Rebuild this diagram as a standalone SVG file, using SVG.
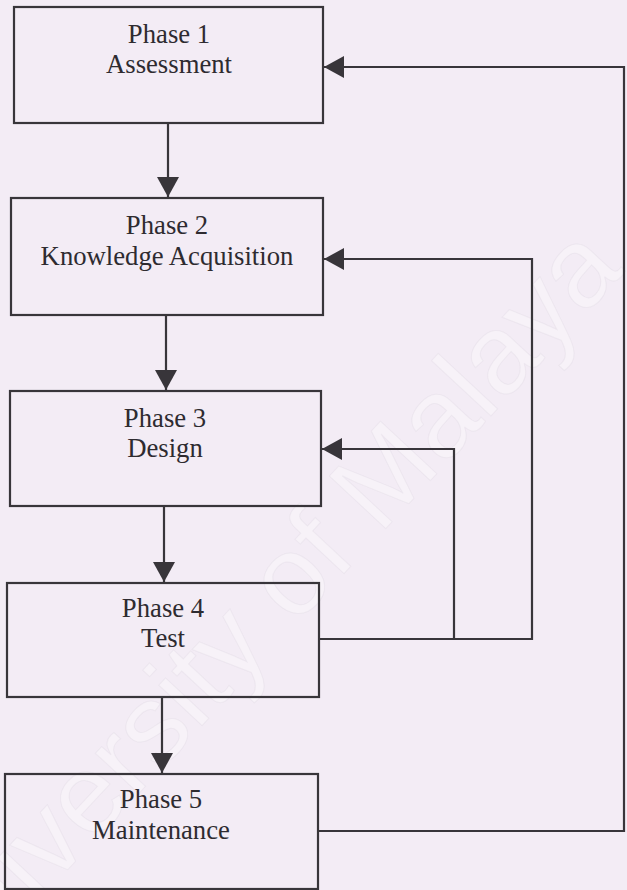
<svg xmlns="http://www.w3.org/2000/svg" width="627" height="890" viewBox="0 0 627 890">
  <style>
    .box { fill: none; stroke: #38353a; stroke-width: 2.2; }
    .lbl { font-family: "Liberation Serif", "Times New Roman", serif; font-size: 26.7px; fill: #2e2b30; text-anchor: middle; }
    .wire { fill: none; stroke: #38353a; stroke-width: 2.2; }
    .mark { font-family: "Liberation Sans", Arial, sans-serif; font-size: 112px; fill: #ffffff; fill-opacity: 0.35; stroke: #b8b0bc; stroke-opacity: 0.12; stroke-width: 1; text-anchor: middle; }
  </style>
  <defs>
    <marker id="head" viewBox="0 0 20 22" refX="20" refY="11" markerWidth="20" markerHeight="22" markerUnits="userSpaceOnUse" orient="auto">
      <path d="M0,0 L20,11 L0,22 Z" fill="#38353a"/>
    </marker>
  </defs>

  <rect width="627" height="890" fill="#f3ecf5"/>

  <!-- faint background watermark -->
  <text class="mark" x="282" y="640" transform="rotate(-47 282 640)">University of Malaya</text>

  <g id="phase1">
    <rect class="box" x="14" y="7" width="309" height="116"/>
    <text class="lbl" x="169" y="43">Phase 1</text>
    <text class="lbl" x="169" y="73">Assessment</text>
  </g>
  <g id="phase2">
    <rect class="box" x="11" y="198" width="312" height="117"/>
    <text class="lbl" x="167" y="234">Phase 2</text>
    <text class="lbl" x="167" y="265">Knowledge Acquisition</text>
  </g>
  <g id="phase3">
    <rect class="box" x="10" y="391" width="311" height="115"/>
    <text class="lbl" x="165" y="427">Phase 3</text>
    <text class="lbl" x="165" y="457">Design</text>
  </g>
  <g id="phase4">
    <rect class="box" x="7" y="583" width="312" height="114"/>
    <text class="lbl" x="163" y="617">Phase 4</text>
    <text class="lbl" x="163" y="647">Test</text>
  </g>
  <g id="phase5">
    <rect class="box" x="5" y="774" width="313" height="115"/>
    <text class="lbl" x="161" y="808">Phase 5</text>
    <text class="lbl" x="161" y="839">Maintenance</text>
  </g>

  <g id="connectors">
    <!-- forward flow -->
    <path class="wire" d="M168,123 V197" marker-end="url(#head)"/>
    <path class="wire" d="M166,315 V390" marker-end="url(#head)"/>
    <path class="wire" d="M164,506 V582" marker-end="url(#head)"/>
    <path class="wire" d="M162,697 V773" marker-end="url(#head)"/>
    <!-- feedback from Test -->
    <path class="wire" d="M319,639 H532 V259 H324" marker-end="url(#head)"/>
    <path class="wire" d="M454,639 V449 H322" marker-end="url(#head)"/>
    <!-- feedback from Maintenance -->
    <path class="wire" d="M318,831 H624 V67 H324" marker-end="url(#head)"/>
  </g>
</svg>
